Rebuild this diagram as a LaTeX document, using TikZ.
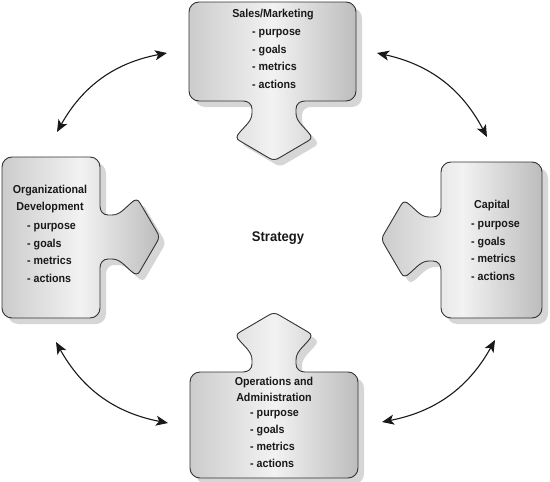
\documentclass[tikz,border=0pt]{standalone}
\usepackage{fontspec}
\newfontfamily\cf{Liberation Sans}[FakeStretch=0.93]
\usetikzlibrary{arrows.meta}
\def\tabpath{-- (0,31) .. controls (0,26) and (3,22) .. (8,22) -- (12,22)
  .. controls (20,22) and (25,29) .. (31,34) .. controls (35,38) and (38,38) .. (40,34)
  -- (57,5) .. controls (59,2) and (59,-2) .. (57,-5)
  -- (40,-34) .. controls (38,-38) and (35,-38) .. (31,-34)
  .. controls (25,-29) and (20,-22) .. (12,-22) -- (8,-22)
  .. controls (3,-22) and (0,-26) .. (0,-31)}
\def\topshape{(189,50) -- (189,2) -- (356,2) -- (356,101)
  {[sharp corners,shift={(274,101)},x={(0pt,-1pt)},y={(1pt,0pt)}] \tabpath}
  -- (189,101) -- cycle}
\def\botshape{(190,420) -- (190,372)
  {[sharp corners,shift={(274,372)},x={(0pt,1pt)},y={(-1pt,0pt)}] \tabpath}
  -- (358,372) -- (358,478) -- (190,478) -- cycle}
\def\leftshape{(2,240) -- (2,157) -- (100,157)
  {[sharp corners,shift={(100,237)},x={(1pt,0pt)},y={(0pt,1pt)}] \tabpath}
  -- (100,318) -- (2,318) -- cycle}
\def\rightshape{(542,240) -- (542,318) -- (441,318)
  {[sharp corners,shift={(441,239)},x={(-1pt,0pt)},y={(0pt,-1pt)}] \tabpath}
  -- (441,162) -- (542,162) -- cycle}
\begin{document}
\begin{tikzpicture}[x=1pt,y=-1pt,
  boxline/.style={draw=black!80, line width=0.9pt, rounded corners=10pt,
    left color=black!20, right color=black!26, middle color=black!5},
  boxshadow/.style={fill=black!16, rounded corners=10pt},
  ttl/.style={font=\cf\bfseries\fontsize{11.5}{17.5}\selectfont, align=center, inner sep=0pt, text=black!90},
  itm/.style={font=\cf\bfseries\fontsize{11.5}{17.5}\selectfont, align=left, anchor=west, inner sep=0pt, text=black!90},
  link/.style={line width=1.1pt, draw=black!90, {Stealth[length=12pt,width=10pt,inset=3pt]}-{Stealth[length=12pt,width=10pt,inset=3pt]}}]
\useasboundingbox (0,0) rectangle (550,482);
% shadows
\path[boxshadow, shift={(6,6)}] \topshape;
\path[boxshadow, shift={(6,6)}] \botshape;
\path[boxshadow, shift={(6,6)}] \leftshape;
\path[boxshadow, shift={(6,6)}] \rightshape;
% shapes
\path[boxline] \topshape;
\path[boxline] \botshape;
\path[boxline] \leftshape;
\path[boxline] \rightshape;
% texts
\node[ttl] (salesT) at (273,15) {Sales/Marketing};
\node[itm] (salesI) at (252,59) {- purpose\\- goals\\- metrics\\- actions};
\node[ttl] (orgT) at (50,199) {Organizational\\Development};
\node[itm] (orgI) at (27,253) {- purpose\\- goals\\- metrics\\- actions};
\node[ttl] (capT) at (492,206) {Capital};
\node[itm] (capI) at (471,251) {- purpose\\- goals\\- metrics\\- actions};
\node[ttl, font=\cf\bfseries\fontsize{11.5}{16}\selectfont] (opsT) at (274,389) {Operations and\\Administration};
\node[itm, font=\cf\bfseries\fontsize{11.5}{16.8}\selectfont] (opsI) at (250,439) {- purpose\\- goals\\- metrics\\- actions};
\node[font=\cf\bfseries\fontsize{14}{16}\selectfont, inner sep=0pt, text=black!90] (strat) at (278,238) {Strategy};
% connectors
\coordinate (a1) at (57,132); \coordinate (a2) at (167,53);
\coordinate (b1) at (377,53); \coordinate (b2) at (487,137);
\coordinate (c1) at (56,342); \coordinate (c2) at (168,423);
\coordinate (d1) at (495,340); \coordinate (d2) at (382,422);
\draw[link] (a1) to[bend left=25] (a2);
\draw[link] (b1) to[bend left=25] (b2);
\draw[link] (c1) to[bend right=25] (c2);
\draw[link] (d1) to[bend left=25] (d2);
\end{tikzpicture}
\end{document}
